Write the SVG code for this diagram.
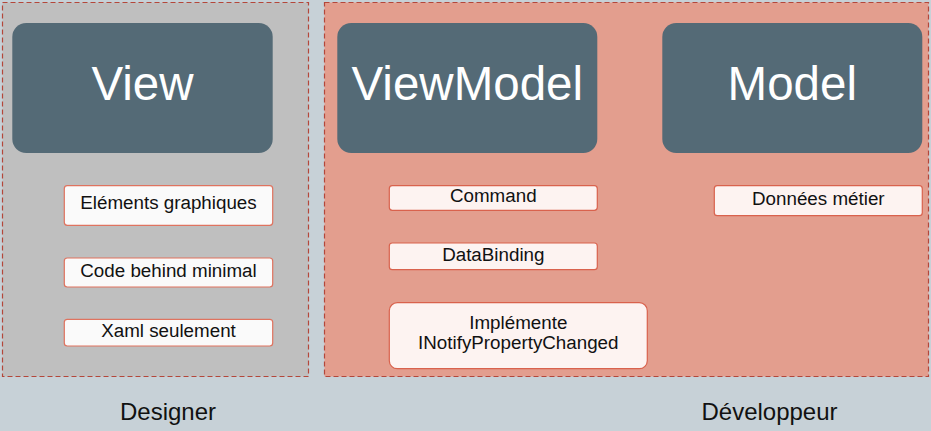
<svg xmlns="http://www.w3.org/2000/svg" width="931" height="431" viewBox="0 0 931 431">
<style>
.panel{stroke:#b4473a;stroke-width:1.2;stroke-dasharray:5,3}
.big{fill:#546a76}
.bigt{font-family:"Liberation Sans",Arial,sans-serif;font-size:47.5px;fill:#ffffff;text-anchor:middle}
.item{fill:#fafafa;stroke:#df735f;stroke-width:1.2}
.itemr{fill:#fdf3f1;stroke:#d9624d;stroke-width:1.2}
.t{font-family:"Liberation Sans",Arial,sans-serif;font-size:18.8px;fill:#111111;text-anchor:middle}
.lab{font-family:"Liberation Sans",Arial,sans-serif;font-size:24px;fill:#111111;text-anchor:middle}
</style>
<rect x="0" y="0" width="931" height="431" fill="#c7d1d7"/>
<g id="designer-panel">
<rect class="panel" x="2.5" y="2.5" width="306" height="374" fill="#bfbfbf"/>
</g>
<g id="developer-panel">
<rect class="panel" x="324.5" y="2.5" width="604" height="374" fill="#e39e8e"/>
</g>
<g id="view">
<rect class="big" x="12.3" y="23" width="260.4" height="130" rx="14"/>
<text class="bigt" x="142.5" y="100">View</text>
</g>
<g id="viewmodel">
<rect class="big" x="337.3" y="23" width="260" height="130" rx="14"/>
<text class="bigt" x="467.3" y="100">ViewModel</text>
</g>
<g id="model">
<rect class="big" x="662.3" y="23" width="260" height="130" rx="14"/>
<text class="bigt" x="792.3" y="100">Model</text>
</g>
<g id="elements-graphiques">
<rect class="item" x="64.3" y="185.7" width="208.4" height="39.6" rx="3"/>
<text class="t" x="168.5" y="209.3">Eléments graphiques</text>
</g>
<g id="code-behind">
<rect class="item" x="64.3" y="258" width="208.4" height="29" rx="3"/>
<text class="t" x="168.5" y="276.7">Code behind minimal</text>
</g>
<g id="xaml">
<rect class="item" x="64.3" y="319.3" width="208.4" height="26.7" rx="3"/>
<text class="t" x="168.5" y="336.7">Xaml seulement</text>
</g>
<g id="command">
<rect class="itemr" x="389.3" y="185.7" width="208" height="24.6" rx="3"/>
<text class="t" x="493.3" y="202.3">Command</text>
</g>
<g id="databinding">
<rect class="itemr" x="389.3" y="243" width="208" height="26.7" rx="3"/>
<text class="t" x="493.3" y="260.7">DataBinding</text>
</g>
<g id="inotify">
<rect class="itemr" x="389.3" y="302.7" width="258" height="66" rx="8"/>
<text class="t" x="518.3" y="329.3">Implémente</text>
<text class="t" x="518.3" y="349.3">INotifyPropertyChanged</text>
</g>
<g id="donnees-metier">
<rect class="itemr" x="714.3" y="185.7" width="208" height="30" rx="3"/>
<text class="t" x="818.3" y="205">Données métier</text>
</g>
<g id="designer-label">
<text class="lab" x="168" y="420">Designer</text>
</g>
<g id="developpeur-label">
<text class="lab" x="769.5" y="420">Développeur</text>
</g>
<g id="connectors"></g>
</svg>
